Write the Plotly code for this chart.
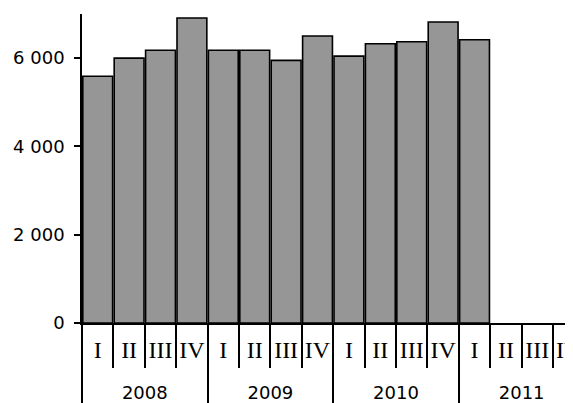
import plotly.graph_objects as go

years = ["2008", "2009", "2010", "2011"]
quarters = ["I", "II", "III", "IV"]
# quarterly values, 2008 I .. 2011 I (rest of 2011 not yet published)
values = [5590, 6000, 6180, 6910,
          6180, 6180, 5950, 6500,
          6045, 6325, 6370, 6820,
          6415]

serif = "Liberation Serif, Times New Roman, serif"
sans = "DejaVu Sans, Verdana, sans-serif"

outer = []
inner = []
for y in years:
  for q in quarters:
    outer.append(y)
    # empty second line pushes the year row further down
    inner.append("<span style='font-family:%s;font-size:24px'>%s</span>"
                 "<br><span style='font-size:27px'>&nbsp;</span>" % (serif, q))

yvals = values + [None] * (len(outer) - len(values))

fig = go.Figure()
fig.add_trace(go.Bar(x=[outer, inner], y=yvals,
                     marker=dict(color="#969696", line=dict(color="black", width=1.6))))

# page body adds 8px, so margins are shifted by that
fig.update_layout(
  width=573, height=403,
  margin=dict(l=74, r=0, t=6, b=88, autoexpand=False),
  paper_bgcolor="white", plot_bgcolor="white",
  showlegend=False, bargap=0.05,
  separators=", ",
  font=dict(family=sans, size=18, color="black"),
)
fig.update_xaxes(
  range=[-0.5, 15.39], automargin=False, tickangle=0,
  showline=True, linecolor="black", linewidth=1.5,
  ticks="outside", tickson="boundaries", ticklen=43, tickcolor="black", tickwidth=1.5,
  ticklabelstandoff=12,
  dividercolor="black", dividerwidth=1.5,
  showgrid=False, zeroline=False,
)
fig.update_yaxes(
  range=[0, 7000], dtick=2000, automargin=False,
  showline=True, linecolor="black", linewidth=1.5,
  ticks="outside", ticklen=6, tickcolor="black", tickwidth=1.5,
  separatethousands=True, tickformat=",d",
  ticklabelstandoff=6,
  showgrid=False, zeroline=False,
)

fig.write_html("out.html")
